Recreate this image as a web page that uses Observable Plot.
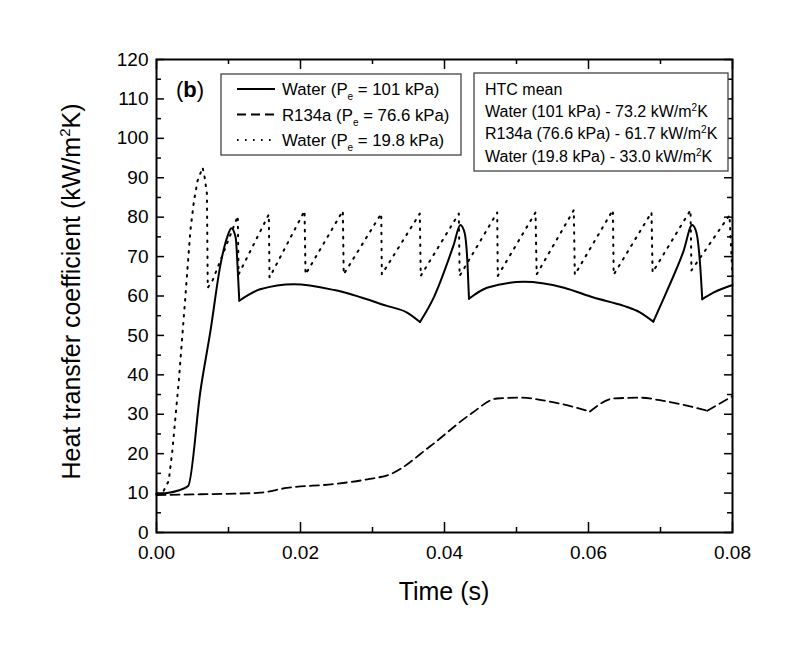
<!DOCTYPE html>
<html><head><meta charset="utf-8">
<script src="https://cdn.jsdelivr.net/npm/d3@7"></script>
<script src="https://cdn.jsdelivr.net/npm/@observablehq/plot@0.6"></script>
<style>
body{margin:0;background:#fff;}
#chart{position:relative;width:800px;height:648px;}
</style>
</head><body><div id="chart"></div>
<script>
// Water (Pe = 101 kPa) — solid
const timeWater101 = [0, 0.0029, 0.0044, 0.0061, 0.0075, 0.0089, 0.0098, 0.0104, 0.0110, 0.0113, 0.0115, 0.0144, 0.0191, 0.0247, 0.0320, 0.0348, 0.0366, 0.0385, 0.0413, 0.0422, 0.0428, 0.0432, 0.0434, 0.0459, 0.0510, 0.0566, 0.0607, 0.0649, 0.0672, 0.0690, 0.0709, 0.0732, 0.0744, 0.0750, 0.0755, 0.0758, 0.0774, 0.0800];
const htcWater101  = [9.7, 10.6, 11.8, 35.9, 51.2, 68.1, 74.8, 77.2, 74.8, 66.0, 58.8, 61.7, 63.0, 61.5, 57.5, 55.8, 53.4, 59.6, 73.1, 78.0, 76.0, 68.0, 59.3, 62.1, 63.6, 62.1, 59.6, 57.5, 55.8, 53.5, 61.3, 71.4, 78.0, 76.0, 68.0, 59.2, 60.9, 62.8];

// R134a (Pe = 76.6 kPa) — dashed
const timeR134a = [0, 0.0061, 0.0117, 0.0144, 0.0181, 0.0247, 0.0293, 0.0325, 0.0381, 0.0436, 0.0473, 0.0506, 0.0552, 0.0602, 0.0635, 0.0672, 0.0704, 0.0765, 0.0800];
const htcR134a  = [9.5, 9.7, 9.9, 10.1, 11.3, 12.3, 13.5, 14.8, 22.0, 30.0, 34.0, 34.2, 33.0, 30.7, 34.0, 34.2, 33.4, 30.9, 34.6];

// Water (Pe = 19.8 kPa) — dotted
const timeWater198 = [0, 0.0010, 0.0017, 0.0022, 0.0031, 0.0040, 0.0047, 0.0052, 0.0057, 0.0064, 0.0067, 0.0070, 0.00712, 0.0078,
  0.01129, 0.0114, 0.0156, 0.0157, 0.02056, 0.0207, 0.02588, 0.0260, 0.03121, 0.0313, 0.03657, 0.0367,
  0.04199, 0.0421, 0.04732, 0.0474, 0.05264, 0.0528, 0.05796, 0.0581, 0.06338, 0.0635, 0.06875, 0.0689,
  0.07417, 0.0743, 0.07958, 0.0800];
const htcWater198  = [9.8, 10.6, 13.1, 20.7, 38.5, 59.6, 76.5, 84.1, 89.2, 92.6, 90.0, 86.0, 62.1, 64.0,
  80.3, 65.5, 80.7, 64.7, 81.6, 65.5, 81.6, 65.5, 80.9, 65.5, 80.9, 65.1,
  80.9, 65.1, 81.2, 65.1, 81.2, 65.5, 81.8, 65.4, 81.8, 65.4, 81.2, 66.0,
  81.8, 66.5, 80.5, 65.0];

// ticks
const xMajorTicks = [0, 0.02, 0.04, 0.06, 0.08];
const xMinorTicks = [0.01, 0.03, 0.05, 0.07];
const yMajorTicks = [0, 10, 20, 30, 40, 50, 60, 70, 80, 90, 100, 110, 120];
const yMinorTicks = [5, 15, 25, 35, 45, 55, 65, 75, 85, 95, 105, 115];

// text
const legendSeries = [
  {name: "Water", p: "101 kPa", dash: null},
  {name: "R134a", p: "76.6 kPa", dash: "9,5"},
  {name: "Water", p: "19.8 kPa", dash: "1.6,6.4"}
];
const htcTitle = "HTC mean";
const htcRows = ["Water (101 kPa) - 73.2 kW/m", "R134a (76.6 kPa) - 61.7 kW/m", "Water (19.8 kPa) - 33.0 kW/m"];

const zip = (ts, hs) => ts.map((t, i) => ({t, h: hs[i]}));
// split a series into smooth pieces at its sharp local minima (cusps), sharing the cusp point
function pieces(ts, hs) {
  const out = [];
  let seg = 0;
  for (let i = 0; i < ts.length; i++) {
    out.push({t: ts[i], h: hs[i], seg});
    if (i > 0 && i < ts.length - 1 && hs[i] < hs[i - 1] && hs[i] < hs[i + 1]) {
      seg++;
      out.push({t: ts[i], h: hs[i], seg});
    }
  }
  return out;
}
const water101 = pieces(timeWater101, htcWater101);
const r134a = pieces(timeR134a, htcR134a);
const water198 = zip(timeWater198, htcWater198);

const W = 800, H = 648, mL = 156, mR = 68, mT = 59, mB = 116;
const fw = W - mL - mR, fh = H - mT - mB;
const FONT = "'Liberation Sans', Arial, Helvetica, sans-serif";

const plot = Plot.plot({
  width: W, height: H,
  marginLeft: mL, marginRight: mR, marginTop: mT, marginBottom: mB,
  style: {fontFamily: FONT, fontSize: "19px", color: "black", background: "white", overflow: "visible"},
  x: {domain: [0, 0.08], label: null},
  y: {domain: [0, 120], label: null},
  marks: [
    Plot.line(water198, {x: "t", y: "h", stroke: "black", strokeWidth: 2, strokeDasharray: "1.6,6.4"}),
    Plot.line(r134a, {x: "t", y: "h", z: "seg", stroke: "black", strokeWidth: 1.8, strokeDasharray: "9,5", curve: "monotone-x"}),
    Plot.line(water101, {x: "t", y: "h", z: "seg", stroke: "black", strokeWidth: 2, curve: "monotone-x"}),
    // inward ticks: bottom & top
    Plot.tickX(xMajorTicks, {x: d => d, insetTop: fh - 10, stroke: "black", strokeWidth: 1.5}),
    Plot.tickX(xMajorTicks, {x: d => d, insetBottom: fh - 10, stroke: "black", strokeWidth: 1.5}),
    Plot.tickX(xMinorTicks, {x: d => d, insetTop: fh - 5, stroke: "black", strokeWidth: 1.5}),
    Plot.tickX(xMinorTicks, {x: d => d, insetBottom: fh - 5, stroke: "black", strokeWidth: 1.5}),
    // inward ticks: left & right
    Plot.tickY(yMajorTicks, {y: d => d, insetRight: fw - 8, stroke: "black", strokeWidth: 1.5}),
    Plot.tickY(yMajorTicks, {y: d => d, insetLeft: fw - 8, stroke: "black", strokeWidth: 1.5}),
    Plot.tickY(yMinorTicks, {y: d => d, insetRight: fw - 5, stroke: "black", strokeWidth: 1.5}),
    Plot.tickY(yMinorTicks, {y: d => d, insetLeft: fw - 5, stroke: "black", strokeWidth: 1.5}),
    Plot.axisX({ticks: xMajorTicks, tickSize: 0, tickPadding: 13, tickFormat: d => d.toFixed(2), label: null}),
    Plot.axisY({ticks: yMajorTicks, tickSize: 0, tickPadding: 8, label: null}),
    Plot.frame({stroke: "black", strokeWidth: 2})
  ]
});
document.getElementById("chart").appendChild(plot);

const svg = d3.select(plot);
const g = svg.append("g").attr("font-family", FONT).attr("fill", "black").attr("text-anchor", "start");

// axis titles
g.append("text").attr("x", mL + fw / 2).attr("y", 600).attr("text-anchor", "middle").attr("font-size", 25).text("Time (s)");
const yt = g.append("text").attr("transform", `translate(80,${mT + fh / 2 - 4}) rotate(-90)`).attr("text-anchor", "middle").attr("font-size", 25);
yt.append("tspan").text("Heat transfer coefficient (kW/m");
yt.append("tspan").attr("font-size", 15).attr("dy", -10).text("2");
yt.append("tspan").attr("dy", 10).text("K)");

// panel label
const pl = g.append("text").attr("x", 176).attr("y", 97).attr("font-size", 22);
pl.append("tspan").text("(");
pl.append("tspan").attr("font-weight", "bold").text("b");
pl.append("tspan").text(")");

// series legend
g.append("rect").attr("x", 221).attr("y", 74).attr("width", 240).attr("height", 81)
  .attr("fill", "white").attr("stroke", "#444").attr("stroke-width", 1.3);
legendSeries.forEach((s, i) => {
  const yb = 95 + i * 25.5;
  g.append("line").attr("x1", 237).attr("x2", 275).attr("y1", yb - 6).attr("y2", yb - 6)
    .attr("stroke", "black").attr("stroke-width", 2).attr("stroke-dasharray", s.dash);
  const t = g.append("text").attr("x", 282).attr("y", yb).attr("font-size", 16.8);
  t.append("tspan").text(`${s.name} (P`);
  t.append("tspan").attr("font-size", 10).attr("dy", 5).text("e");
  t.append("tspan").attr("dy", -5).text(` = ${s.p})`);
});

// HTC mean box
g.append("rect").attr("x", 474).attr("y", 73).attr("width", 254).attr("height", 98)
  .attr("fill", "white").attr("stroke", "#444").attr("stroke-width", 1.3);
g.append("text").attr("x", 485).attr("y", 95).attr("font-size", 16).text(htcTitle);
htcRows.forEach((r, i) => {
  const t = g.append("text").attr("x", 485).attr("y", 117 + i * 22.3).attr("font-size", 16);
  t.append("tspan").text(r);
  t.append("tspan").attr("font-size", 10).attr("dy", -6).text("2");
  t.append("tspan").attr("dy", 6).text("K");
});
</script>
</body></html>
